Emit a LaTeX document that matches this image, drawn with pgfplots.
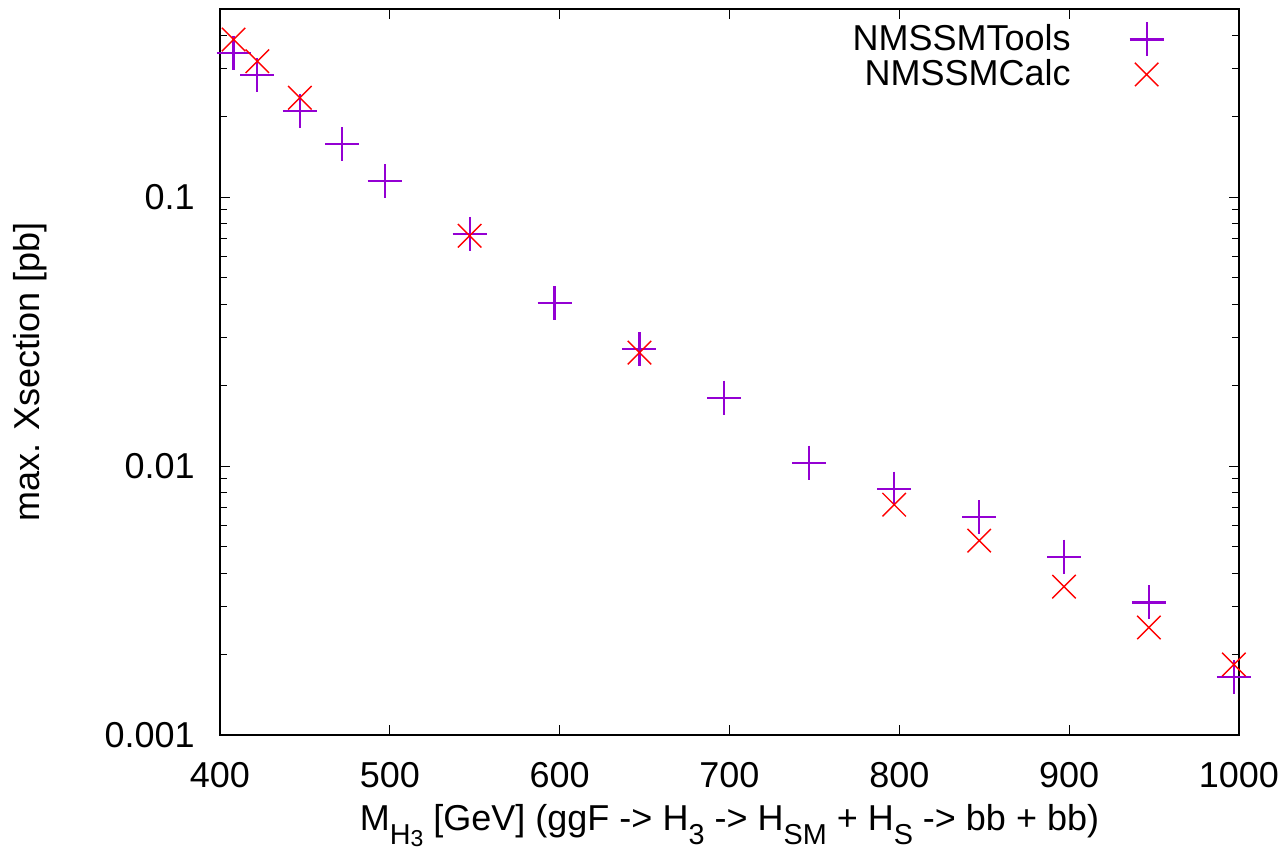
\documentclass[border=0pt]{standalone}
\usepackage{fontspec}
\setmainfont{Liberation Sans}
\usepackage{pgfplots}
\pgfplotsset{compat=1.18}
\definecolor{gpviolet}{HTML}{9400D3}
\definecolor{gpred}{HTML}{FF0000}
\newcommand{\sub}[1]{\raisebox{-7pt}{\fontsize{14.4}{16}\selectfont #1}}
\newcommand{\subb}[1]{\raisebox{-1pt}{\fontsize{11.5}{13}\selectfont #1}}
\begin{document}
\begin{tikzpicture}
\path[use as bounding box] (-110pt,-57.5pt) rectangle (533.5pt,367.5pt);
\begin{axis}[
  scale only axis, width=509.5pt, height=363pt,
  at={(0pt,0pt)}, anchor=south west,
  xmin=400, xmax=1000, ymode=log, ymin=0.001, ymax=0.5,
  clip=false,
  xtick={400,500,600,700,800,900,1000},
  xticklabels={400,500,600,700,800,900,1000},
  ytick={0.001,0.01,0.1},
  yticklabels={0.001,0.01,0.1},
  minor ytick={0.002,0.003,0.004,0.005,0.006,0.007,0.008,0.009,0.02,0.03,0.04,0.05,0.06,0.07,0.08,0.09,0.2,0.3,0.4},
  tick align=inside,
  major tick length=5pt, minor tick length=3.5pt,
  axis line style={line width=1pt},
  every tick/.style={black, line width=0.5pt},
  font=\fontsize{18}{21}\selectfont,
  xticklabel style={anchor=north, inner sep=0pt, yshift=-13.5pt},
  yticklabel style={anchor=east, inner sep=0pt, xshift=-12.5pt},
  xlabel={M\sub{H\subb{3}} [GeV] (ggF -> H\sub{3} -> H\sub{SM} + H\sub{S} -> bb + bb)},
  ylabel={max. Xsection [pb]},
  xlabel style={at={(axis description cs:0.5,0)}, anchor=base, yshift=-47.5pt, inner sep=0pt},
  ylabel style={at={(axis description cs:0,0.5)}, anchor=center, yshift=95pt, inner sep=0pt},
  legend cell align=right,
  legend plot pos=right,
  legend style={draw=none, fill=none, inner sep=0pt, at={(axis description cs:0.9265,0.9821)}, anchor=north east,
    font=\fontsize{18}{21}\selectfont, nodes={inner sep=0pt}, /tikz/column sep=29.5pt, /tikz/row sep=1.75pt},
  legend image code/.code={\draw[mark repeat=1,#1] plot coordinates {(0pt,0pt)};},
]
\addplot[only marks, mark=+, mark size=8.5pt, color=gpviolet, line width=1.1pt] coordinates {
(408,0.343)(422,0.284)(447,0.209)(472,0.157)(497,0.1147)(547,0.0730)(597,0.0403)(647,0.0272)(697,0.01795)(747,0.01029)(797,0.00824)(847,0.00646)(897,0.00460)(947,0.00311)(997,0.00164)
};
\addlegendentry{NMSSMTools}
\addplot[only marks, mark=x, mark size=8.3pt, color=gpred, line width=0.7pt] coordinates {
(408,0.385)(422,0.320)(447,0.234)(547,0.0718)(647,0.0264)(797,0.00718)(847,0.00528)(897,0.00356)(947,0.00251)(997,0.00183)
};
\addlegendentry{NMSSMCalc}
\end{axis}
\end{tikzpicture}
\end{document}
